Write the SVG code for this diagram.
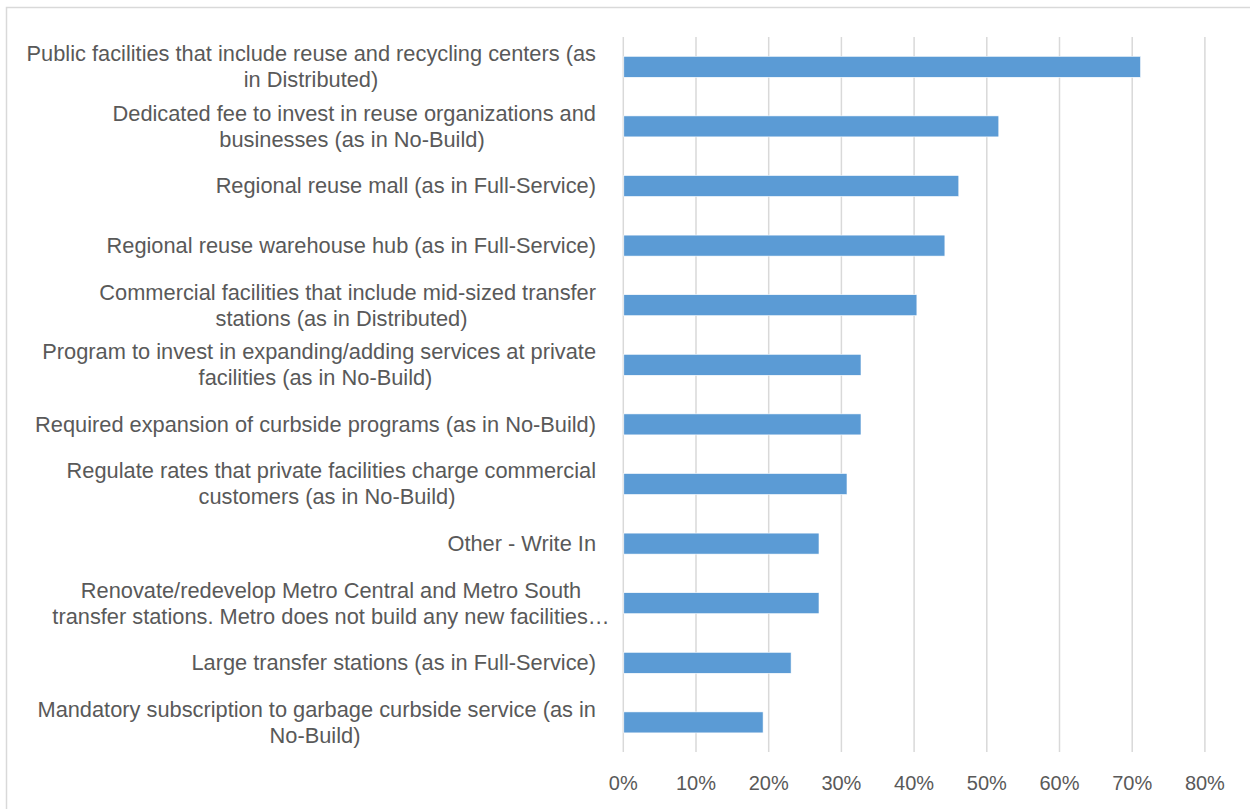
<svg xmlns="http://www.w3.org/2000/svg" width="1250" height="809" viewBox="0 0 1250 809">
<style>
.lbl{font-family:"Liberation Sans",Arial,sans-serif;font-size:21.8px;fill:#595959}
.ax{font-family:"Liberation Sans",Arial,sans-serif;font-size:20px;fill:#595959;text-anchor:middle}
.e{text-anchor:end}
.m{text-anchor:middle}
.bar{fill:#5B9BD5;stroke:#FFFFFF;stroke-width:0.6}
.grid{stroke:#D9D9D9;stroke-width:1.5;fill:none}
</style>
<rect width="1250" height="809" fill="#FFFFFF"/>
<g id="frame">
<path d="M6.5,820 V7.5 H1260" fill="none" stroke="#D9D9D9" stroke-width="1.5"/>
</g>
<g id="gridlines" class="grid">
<line x1="623.3" y1="37" x2="623.3" y2="752"/>
<line x1="696" y1="37" x2="696" y2="752"/>
<line x1="768.7" y1="37" x2="768.7" y2="752"/>
<line x1="841.4" y1="37" x2="841.4" y2="752"/>
<line x1="914.1" y1="37" x2="914.1" y2="752"/>
<line x1="986.8" y1="37" x2="986.8" y2="752"/>
<line x1="1059.5" y1="37" x2="1059.5" y2="752"/>
<line x1="1132.2" y1="37" x2="1132.2" y2="752"/>
<line x1="1204.9" y1="37" x2="1204.9" y2="752"/>
</g>
<g id="bars">
<rect class="bar" x="623.8" y="56.3" width="516.8" height="21"/>
<rect class="bar" x="623.8" y="115.9" width="375" height="21"/>
<rect class="bar" x="623.8" y="175.5" width="335" height="21"/>
<rect class="bar" x="623.8" y="235.1" width="321.1" height="21"/>
<rect class="bar" x="623.8" y="294.7" width="293.1" height="21"/>
<rect class="bar" x="623.8" y="354.3" width="237.2" height="21"/>
<rect class="bar" x="623.8" y="413.9" width="237.2" height="21"/>
<rect class="bar" x="623.8" y="473.5" width="223.2" height="21"/>
<rect class="bar" x="623.8" y="533.1" width="195.2" height="21"/>
<rect class="bar" x="623.8" y="592.7" width="195.2" height="21"/>
<rect class="bar" x="623.8" y="652.3" width="167.3" height="21"/>
<rect class="bar" x="623.8" y="711.9" width="139.3" height="21"/>
</g>
<g id="category-labels" class="lbl">
<g id="label-1"><text class="e" x="596" y="61">Public facilities that include reuse and recycling centers (as</text><text class="m" x="311" y="87">in Distributed)</text></g>
<g id="label-2"><text class="e" x="596" y="120.7">Dedicated fee to invest in reuse organizations and</text><text class="m" x="352" y="146.7">businesses (as in No-Build)</text></g>
<g id="label-3"><text class="e" x="596" y="193.3">Regional reuse mall (as in Full-Service)</text></g>
<g id="label-4"><text class="e" x="596" y="252.9">Regional reuse warehouse hub (as in Full-Service)</text></g>
<g id="label-5"><text class="e" x="596" y="299.5">Commercial facilities that include mid-sized transfer</text><text class="m" x="341.5" y="325.5">stations (as in Distributed)</text></g>
<g id="label-6"><text class="e" x="596" y="359.1">Program to invest in expanding/adding services at private</text><text class="m" x="315.5" y="385.1">facilities (as in No-Build)</text></g>
<g id="label-7"><text class="e" x="596" y="431.7">Required expansion of curbside programs (as in No-Build)</text></g>
<g id="label-8"><text class="e" x="596" y="478.3">Regulate rates that private facilities charge commercial</text><text class="m" x="327" y="504.3">customers (as in No-Build)</text></g>
<g id="label-9"><text class="e" x="596" y="550.9">Other - Write In</text></g>
<g id="label-10"><text class="m" x="331" y="597.5">Renovate/redevelop Metro Central and Metro South</text><text class="m" x="331" y="623.5">transfer stations. Metro does not build any new facilities…</text></g>
<g id="label-11"><text class="e" x="596" y="670.1">Large transfer stations (as in Full-Service)</text></g>
<g id="label-12"><text class="e" x="596" y="716.7">Mandatory subscription to garbage curbside service (as in</text><text class="m" x="315" y="742.7">No-Build)</text></g>
</g>
<g id="axis-labels" class="ax">
<text x="623.3" y="790">0%</text>
<text x="696" y="790">10%</text>
<text x="768.7" y="790">20%</text>
<text x="841.4" y="790">30%</text>
<text x="914.1" y="790">40%</text>
<text x="986.8" y="790">50%</text>
<text x="1059.5" y="790">60%</text>
<text x="1132.2" y="790">70%</text>
<text x="1204.9" y="790">80%</text>
</g>
</svg>
